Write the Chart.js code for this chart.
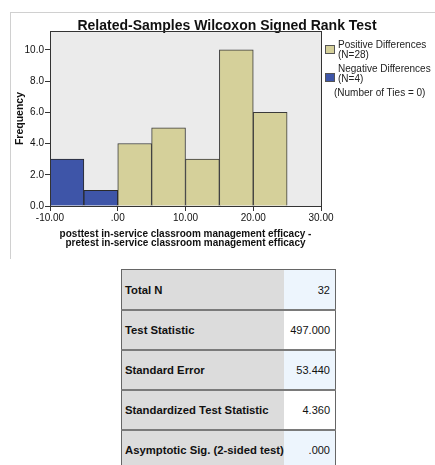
<!DOCTYPE html>
<html><head><meta charset="utf-8">
<script src="https://cdn.jsdelivr.net/npm/chart.js@4"></script>
<style>
body{margin:0;background:#fff;font-family:"Liberation Sans",Arial,sans-serif;}
#wrap{position:relative;width:435px;height:465px;overflow:hidden;background:#fff;}
#frame{position:absolute;left:10px;top:12px;width:440px;height:246px;border-left:1px solid #d0d0d0;border-top:1px solid #d0d0d0;}
#c{position:absolute;left:0;top:0;}
.lb{position:absolute;width:8px;height:7px;border:1px solid #555;}
.lt{position:absolute;font-size:10px;line-height:10px;color:#222;white-space:nowrap;}
#tbl{position:absolute;left:121px;top:269px;border-collapse:collapse;border:1px solid #666;}
#tbl td{height:38px;padding:0;border-top:2px solid #7a7a7a;font-size:11px;color:#111;}
#tbl tr:first-child td{border-top:none;height:39px;}
#tbl td.k{width:159px;background:#dcdcdc;font-weight:bold;font-size:11.3px;padding-left:3px;}
#tbl td.v{width:46px;text-align:right;padding-right:5px;}
#tbl tr.b td.v{background:#edf5fd;}
#tbl tr.w td.v{background:#fff;}
</style>
</head><body>
<div id="wrap">
<div id="frame"></div>
<canvas id="c" width="435" height="262"></canvas>
<div class="lb" style="left:325px;top:45px;background:#d5d09a"></div>
<div class="lt" style="left:338px;top:40px">Positive Differences<br>(N=28)</div>
<div class="lb" style="left:325px;top:73px;background:#3e55a8"></div>
<div class="lt" style="left:338px;top:64px">Negative Differences<br>(N=4)</div>
<div class="lt" style="left:334px;top:88px">(Number of Ties = 0)</div>
<table id="tbl"></table>
</div>
<script>
const negCenters = [-7.5, -2.5];
const negFreq = [3, 1];
const posCenters = [2.5, 7.5, 12.5, 17.5, 22.5];
const posFreq = [4, 5, 3, 10, 6];
const xTicks = [-10, 0, 10, 20, 30];
const yTicks = [0, 2, 4, 6, 8, 10];
const statLabels = ["Total N", "Test Statistic", "Standard Error", "Standardized Test Statistic", "Asymptotic Sig. (2-sided test)"];
const statValues = ["32", "497.000", "53.440", "4.360", ".000"];

// table
const tbl = document.getElementById('tbl');
statLabels.forEach((l, i) => {
  const tr = document.createElement('tr');
  tr.className = i % 2 === 0 ? 'b' : 'w';
  const a = document.createElement('td'); a.className = 'k'; a.textContent = l;
  const b = document.createElement('td'); b.className = 'v'; b.textContent = statValues[i];
  tr.appendChild(a); tr.appendChild(b); tbl.appendChild(tr);
});

const FONT = '"Liberation Sans", Arial, sans-serif';
const bgPlugin = {
  id: 'bg',
  beforeDraw(chart) {
    const {ctx, chartArea: a} = chart;
    ctx.save(); ctx.fillStyle = '#ebebeb';
    ctx.fillRect(a.left, a.top, a.right - a.left, a.bottom - a.top);
    ctx.restore();
  },
  afterDraw(chart) {
    const {ctx, chartArea: a} = chart;
    ctx.save(); ctx.strokeStyle = '#333'; ctx.lineWidth = 1;
    ctx.strokeRect(Math.round(a.left) + 0.5, Math.round(a.top) + 0.5, Math.round(a.right - a.left), Math.round(a.bottom - a.top));
    ctx.restore();
  }
};

new Chart(document.getElementById('c'), {
  type: 'bar',
  data: {
    datasets: [
      {label: 'Negative Differences', data: negCenters.map((x, i) => ({x, y: negFreq[i]})), backgroundColor: '#3e55a8', borderColor: '#2a2a2a', borderWidth: 1, grouped: false, barPercentage: 1, categoryPercentage: 1},
      {label: 'Positive Differences', data: posCenters.map((x, i) => ({x, y: posFreq[i]})), backgroundColor: '#d5d09a', borderColor: '#3a3a3a', borderWidth: 1, grouped: false, barPercentage: 1, categoryPercentage: 1}
    ]
  },
  options: {
    responsive: false, animation: false,
    layout: {padding: {left: 19, right: 0, top: 0, bottom: 0}},
    plugins: {
      legend: {display: false}, tooltip: {enabled: false},
      title: {display: true, text: 'Related-Samples Wilcoxon Signed Rank Test', color: '#111', font: {family: FONT, size: 14, weight: 'bold', lineHeight: 1.2}, padding: {top: 18, bottom: -3.8}}
    },
    scales: {
      x: {
        type: 'linear', min: -10, max: 30, offset: false,
        afterFit: s => { s.height = 56; },
        afterBuildTicks: s => { s.ticks = xTicks.map(v => ({value: v})); },
        grid: {display: true, drawOnChartArea: false, offset: false, tickLength: 5, color: '#333'},
        border: {display: true, color: '#333'},
        ticks: {color: '#111', font: {family: FONT, size: 10}, padding: 1, maxRotation: 0, autoSkip: false,
          callback: v => { const s = Number(v).toFixed(2); return s.replace(/^(-?)0\./, '$1.'); }},
        title: {display: true, text: ['posttest in-service classroom management efficacy -', 'pretest in-service classroom management efficacy'], color: '#111', font: {family: FONT, size: 10, weight: 'bold', lineHeight: 0.9}, padding: {top: 0, bottom: 14}}
      },
      y: {
        type: 'linear', min: 0, max: 11.2, position: 'left',
        afterFit: s => { s.width = 31; },
        afterBuildTicks: s => { s.ticks = yTicks.map(v => ({value: v})); },
        grid: {display: true, drawOnChartArea: false, tickLength: 5, color: '#333'},
        border: {display: true, color: '#333'},
        ticks: {color: '#111', font: {family: FONT, size: 10}, padding: 1, autoSkip: false, callback: v => Number(v).toFixed(1)},
        title: {display: true, text: 'Frequency', color: '#111', font: {family: FONT, size: 10.5, weight: 'bold', lineHeight: 1.2}, padding: {top: -5.3, bottom: 0}}
      },
      yR: {
        type: 'linear', position: 'right', display: true,
        afterFit: s => { s.width = 114; },
        grid: {display: false}, border: {display: false}, ticks: {display: false}
      }
    }
  },
  plugins: [bgPlugin]
});
</script>
</body></html>
